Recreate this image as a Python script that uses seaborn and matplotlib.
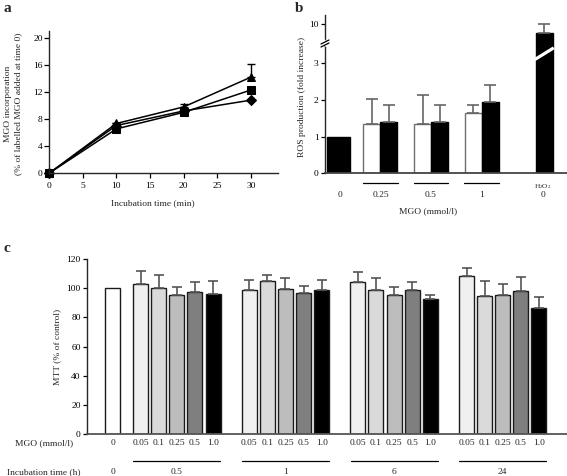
"""Three-panel figure: MGO incorporation, ROS production and MTT assay."""

import matplotlib
matplotlib.use('Agg')
import matplotlib.pyplot as plt
import numpy as np
import pandas as pd
import seaborn as sns

####################################################################################################
## DATA

# Panel a: MGO incorporation over time (three series)
TIME_MIN = [0, 10, 20, 30]
INC_TRIANGLE = [0.0, 7.35, 9.8, 14.2]
INC_SQUARE = [0.0, 6.55, 9.0, 12.3]
INC_DIAMOND = [0.0, 7.05, 9.2, 10.8]
TRIANGLE_ERR = [0.0, 0.0, 0.4, 1.9]

# Panel b: ROS production (fold increase)
ROS_GROUPS = ['0.25', '0.5', '1']
ROS_WHITE = [1.35, 1.35, 1.65]
ROS_WHITE_ERR = [0.67, 0.79, 0.21]
ROS_BLACK = [1.39, 1.39, 1.94]
ROS_BLACK_ERR = [0.47, 0.47, 0.47]
ROS_CONTROL = 1.0
ROS_H2O2 = 8.6
ROS_H2O2_ERR = 1.4

# Panel c: MTT (% of control)
MGO_CONC = ['0.05', '0.1', '0.25', '0.5', '1.0']
INC_TIMES = ['0.5', '1', '6', '24']
MTT_CONTROL = 100.0
MTT = [[102.7, 99.8, 95.6, 97.5, 95.9],
       [99.0, 105.1, 99.3, 96.7, 98.5],
       [104.5, 99.0, 95.1, 98.7, 92.3],
       [108.3, 94.9, 95.1, 98.1, 86.6]]
MTT_ERR = [[9.3, 9.2, 4.9, 6.5, 9.1],
           [6.8, 4.2, 7.4, 4.6, 7.3],
           [6.4, 7.7, 5.5, 5.8, 2.8],
           [5.3, 10.2, 7.8, 9.3, 7.6]]

####################################################################################################
## SETTINGS

W, H = 567, 476
FS = 6.8
CONC_COLORS = {'0': '#ffffff', '0.05': '#f0f0f0', '0.1': '#dadada',
               '0.25': '#bdbdbd', '0.5': '#7f7f7f', '1.0': '#000000'}

sns.set_style('ticks')
plt.rcParams['font.family'] = ['Liberation Serif', 'DejaVu Serif']
plt.rcParams['mathtext.fontset'] = 'custom'
plt.rcParams['mathtext.rm'] = 'Liberation Serif'
plt.rcParams['mathtext.it'] = 'Liberation Serif:italic'
plt.rcParams['font.size'] = FS
plt.rcParams['axes.linewidth'] = 1.0


def box(left, top, right, bottom):
    """Axes rectangle from pixel edges."""
    return [left / W, 1 - bottom / H, (right - left) / W, (bottom - top) / H]


def ftext(x, y, s, **kwargs):
    """Figure text at pixel coordinates."""
    fig.text(x / W, 1 - y / H, s, **kwargs)


fig = plt.figure(figsize=(W / 100, H / 100), dpi=100)

####################################################################################################
## PANEL A

ax_a = fig.add_axes(box(49, 31, 278, 173.3))
df_a = pd.DataFrame({
    'time': TIME_MIN * 3,
    'value': INC_TRIANGLE + INC_SQUARE + INC_DIAMOND,
    'series': ['tri'] * 4 + ['sqr'] * 4 + ['dia'] * 4,
})
ax_a.errorbar(TIME_MIN, INC_TRIANGLE, yerr=[np.zeros(4), TRIANGLE_ERR], fmt='none',
              ecolor='k', elinewidth=1.0, capsize=3, capthick=1.0)
sns.lineplot(data=df_a, x='time', y='value', style='series', color='k',
             markers={'tri': '^', 'sqr': 's', 'dia': 'D'}, dashes=False,
             markersize=5.5, markeredgecolor='k', lw=1.1, errorbar=None,
             legend=False, ax=ax_a)
for line in ax_a.lines:
    line.set_clip_on(False)

ax_a.set(xlim=(0, 34), ylim=(0, 21), xlabel='', ylabel='',
         xticks=[0, 5, 10, 15, 20, 25, 30], yticks=[0, 4, 8, 12, 16, 20])
ax_a.tick_params(direction='out', length=3.5, width=0.9, labelsize=FS, colors='k')
ax_a.tick_params(axis='x', pad=3)
ax_a.tick_params(axis='y', pad=1)
sns.despine(ax=ax_a)

ftext(153, 203, 'Incubation time (min)', ha='center', va='center', fontsize=FS)
ftext(8, 104, 'MGO incorporation', ha='center', va='center', rotation=90, fontsize=FS)
ftext(18, 104, '(% of labelled MGO added at time 0)', ha='center', va='center',
      rotation=90, fontsize=FS)

####################################################################################################
## PANEL B

# pixel layout: control at 338.5 px, 50.5 px per unit
grp_pos = np.array([0.83, 1.83, 2.83])
h2o2_pos = 4.07
half = 0.168
ax_bt = fig.add_axes(box(325, 15, 567, 46))
ax_b = fig.add_axes(box(325, 46, 567, 173.3))

for ax in (ax_b, ax_bt):
    sns.barplot(x=[0.0], y=[ROS_CONTROL], native_scale=True, orient='x', width=0.455,
                color='k', edgecolor='k', saturation=1, errorbar=None, ax=ax)
    sns.barplot(x=grp_pos - half, y=ROS_WHITE, native_scale=True, orient='x', width=0.337,
                color='white', edgecolor='#6e6e6e', linewidth=1.0, saturation=1,
                errorbar=None, ax=ax)
    sns.barplot(x=grp_pos + half, y=ROS_BLACK, native_scale=True, orient='x', width=0.337,
                color='k', edgecolor='k', saturation=1, errorbar=None, ax=ax)
    sns.barplot(x=[h2o2_pos], y=[ROS_H2O2], native_scale=True, orient='x', width=0.337,
                color='k', edgecolor='k', saturation=1, errorbar=None, ax=ax)
    ax.errorbar(grp_pos - half, ROS_WHITE, yerr=[np.zeros(3), ROS_WHITE_ERR], fmt='none',
                ecolor='#666666', elinewidth=1.2, capsize=4, capthick=1.2)
    ax.errorbar(grp_pos + half, ROS_BLACK, yerr=[np.zeros(3), ROS_BLACK_ERR], fmt='none',
                ecolor='#666666', elinewidth=1.2, capsize=4, capthick=1.2)
    ax.errorbar([h2o2_pos], [ROS_H2O2], yerr=[[0], [ROS_H2O2_ERR]], fmt='none',
                ecolor='#666666', elinewidth=1.2, capsize=4, capthick=1.2)
    ax.set(xlim=(-0.267, 4.52), xlabel='', ylabel='', xticks=[])
    ax.tick_params(direction='out', length=3, width=0.9, pad=1.5, labelsize=FS, colors='k')

ax_b.set(ylim=(0, 3.47), yticks=[0, 1, 2, 3])
ax_bt.set(ylim=(6.7, 11.35), yticks=[10])
sns.despine(ax=ax_b)
sns.despine(ax=ax_bt, bottom=True)
ax_b.spines['bottom'].set_color('#444444')
ax_b.spines['bottom'].set_linewidth(1.3)

# white slash across the H2O2 bar and break marks on the y axis
ax_b.plot([h2o2_pos - half - 0.02, h2o2_pos + half + 0.02], [3.10, 3.42], color='white',
          lw=2.3, solid_capstyle='butt', zorder=5)
fig.add_artist(plt.Line2D([324 / W, 326 / W], [1 - 41 / H, 1 - 45 / H], color='white', lw=2.5))
for y0 in (44, 47):
    fig.add_artist(plt.Line2D([321 / W, 329 / W], [1 - y0 / H, 1 - (y0 - 4) / H],
                              color='k', lw=0.9))

xt_b = ax_b.get_xaxis_transform()
ax_b.text(0.03, -0.172, '0', transform=xt_b, ha='center', va='center', fontsize=FS)
for pos, lab in zip(grp_pos, ROS_GROUPS):
    ax_b.text(pos, -0.172, lab, transform=xt_b, ha='center', va='center', fontsize=FS)
    ax_b.plot([pos - 0.345, pos + 0.345], [-0.074, -0.074], transform=xt_b, color='k',
              lw=0.9, clip_on=False)
ax_b.text(h2o2_pos - 0.02, -0.172, '0', transform=xt_b, ha='center', va='center', fontsize=FS)
ax_b.text(h2o2_pos - 0.02, -0.106, r'H$_2$O$_2$', transform=xt_b, ha='center', va='center',
          fontsize=5.2)

ftext(428, 211.5, 'MGO (mmol/l)', ha='center', va='center', fontsize=FS)
ftext(302, 97, 'ROS production (fold increase)', ha='center', va='center', rotation=90,
      fontsize=FS)

####################################################################################################
## PANEL C

# control at 112.5 px, 18.1 px per unit
grp_center = 3.55 + 6 * np.arange(len(INC_TIMES))
offsets = np.arange(len(MGO_CONC)) - 2
pos_c = [0.0] + [c + o for c in grp_center for o in offsets]
conc_c = ['0'] + MGO_CONC * len(INC_TIMES)
mtt_c = [MTT_CONTROL] + [v for row in MTT for v in row]
err_c = [0.0] + [e for row in MTT_ERR for e in row]
df_c = pd.DataFrame({'pos': pos_c, 'mtt': mtt_c, 'conc': conc_c})

ax_c = fig.add_axes(box(87, 259, 567, 434))
sns.barplot(data=df_c, x='pos', y='mtt', hue='conc', palette=CONC_COLORS,
            hue_order=list(CONC_COLORS), native_scale=True, orient='x', dodge=False,
            width=0.83, saturation=1, errorbar=None, edgecolor='#1a1a1a', linewidth=1.0,
            legend=False, ax=ax_c)
ax_c.errorbar(pos_c[1:], mtt_c[1:], yerr=[np.zeros(len(err_c) - 1), err_c[1:]], fmt='none',
              ecolor='#555555', elinewidth=1.2, capsize=3.5, capthick=1.2)
ax_c.set(xlim=(-1.41, 25.1), ylim=(0, 120), xlabel='', ylabel='', xticks=[],
         yticks=[0, 20, 40, 60, 80, 100, 120])
ax_c.tick_params(direction='out', length=3, width=0.9, pad=1.5, labelsize=FS, colors='k')
sns.despine(ax=ax_c)
ax_c.spines['bottom'].set_color('#555555')
ax_c.spines['bottom'].set_linewidth(1.3)

xt_c = ax_c.get_xaxis_transform()
for pos, lab in zip(pos_c, conc_c):
    ax_c.text(pos, -0.053, lab, transform=xt_c, ha='center', va='center', fontsize=FS)
ax_c.text(0, -0.218, '0', transform=xt_c, ha='center', va='center', fontsize=FS)
for cen, lab in zip(grp_center, INC_TIMES):
    ax_c.text(cen, -0.218, lab, transform=xt_c, ha='center', va='center', fontsize=FS)
    ax_c.plot([cen - 2.4, cen + 2.4], [-0.154, -0.154], transform=xt_c, color='k', lw=0.9,
              clip_on=False)

ftext(44, 443, 'MGO (mmol/l)', ha='center', va='center', fontsize=FS)
ftext(44, 472, 'Incubation time (h)', ha='center', va='center', fontsize=FS)
ftext(57, 347, 'MTT (% of control)', ha='center', va='center', rotation=90, fontsize=FS)

## PANEL LETTERS
for x, y, s in [(3, 12, 'a'), (295, 12, 'b'), (3, 252, 'c')]:
    ftext(x, y, s, ha='left', va='baseline', fontsize=11, fontweight='bold')

fig.savefig('out.png', dpi=100)
